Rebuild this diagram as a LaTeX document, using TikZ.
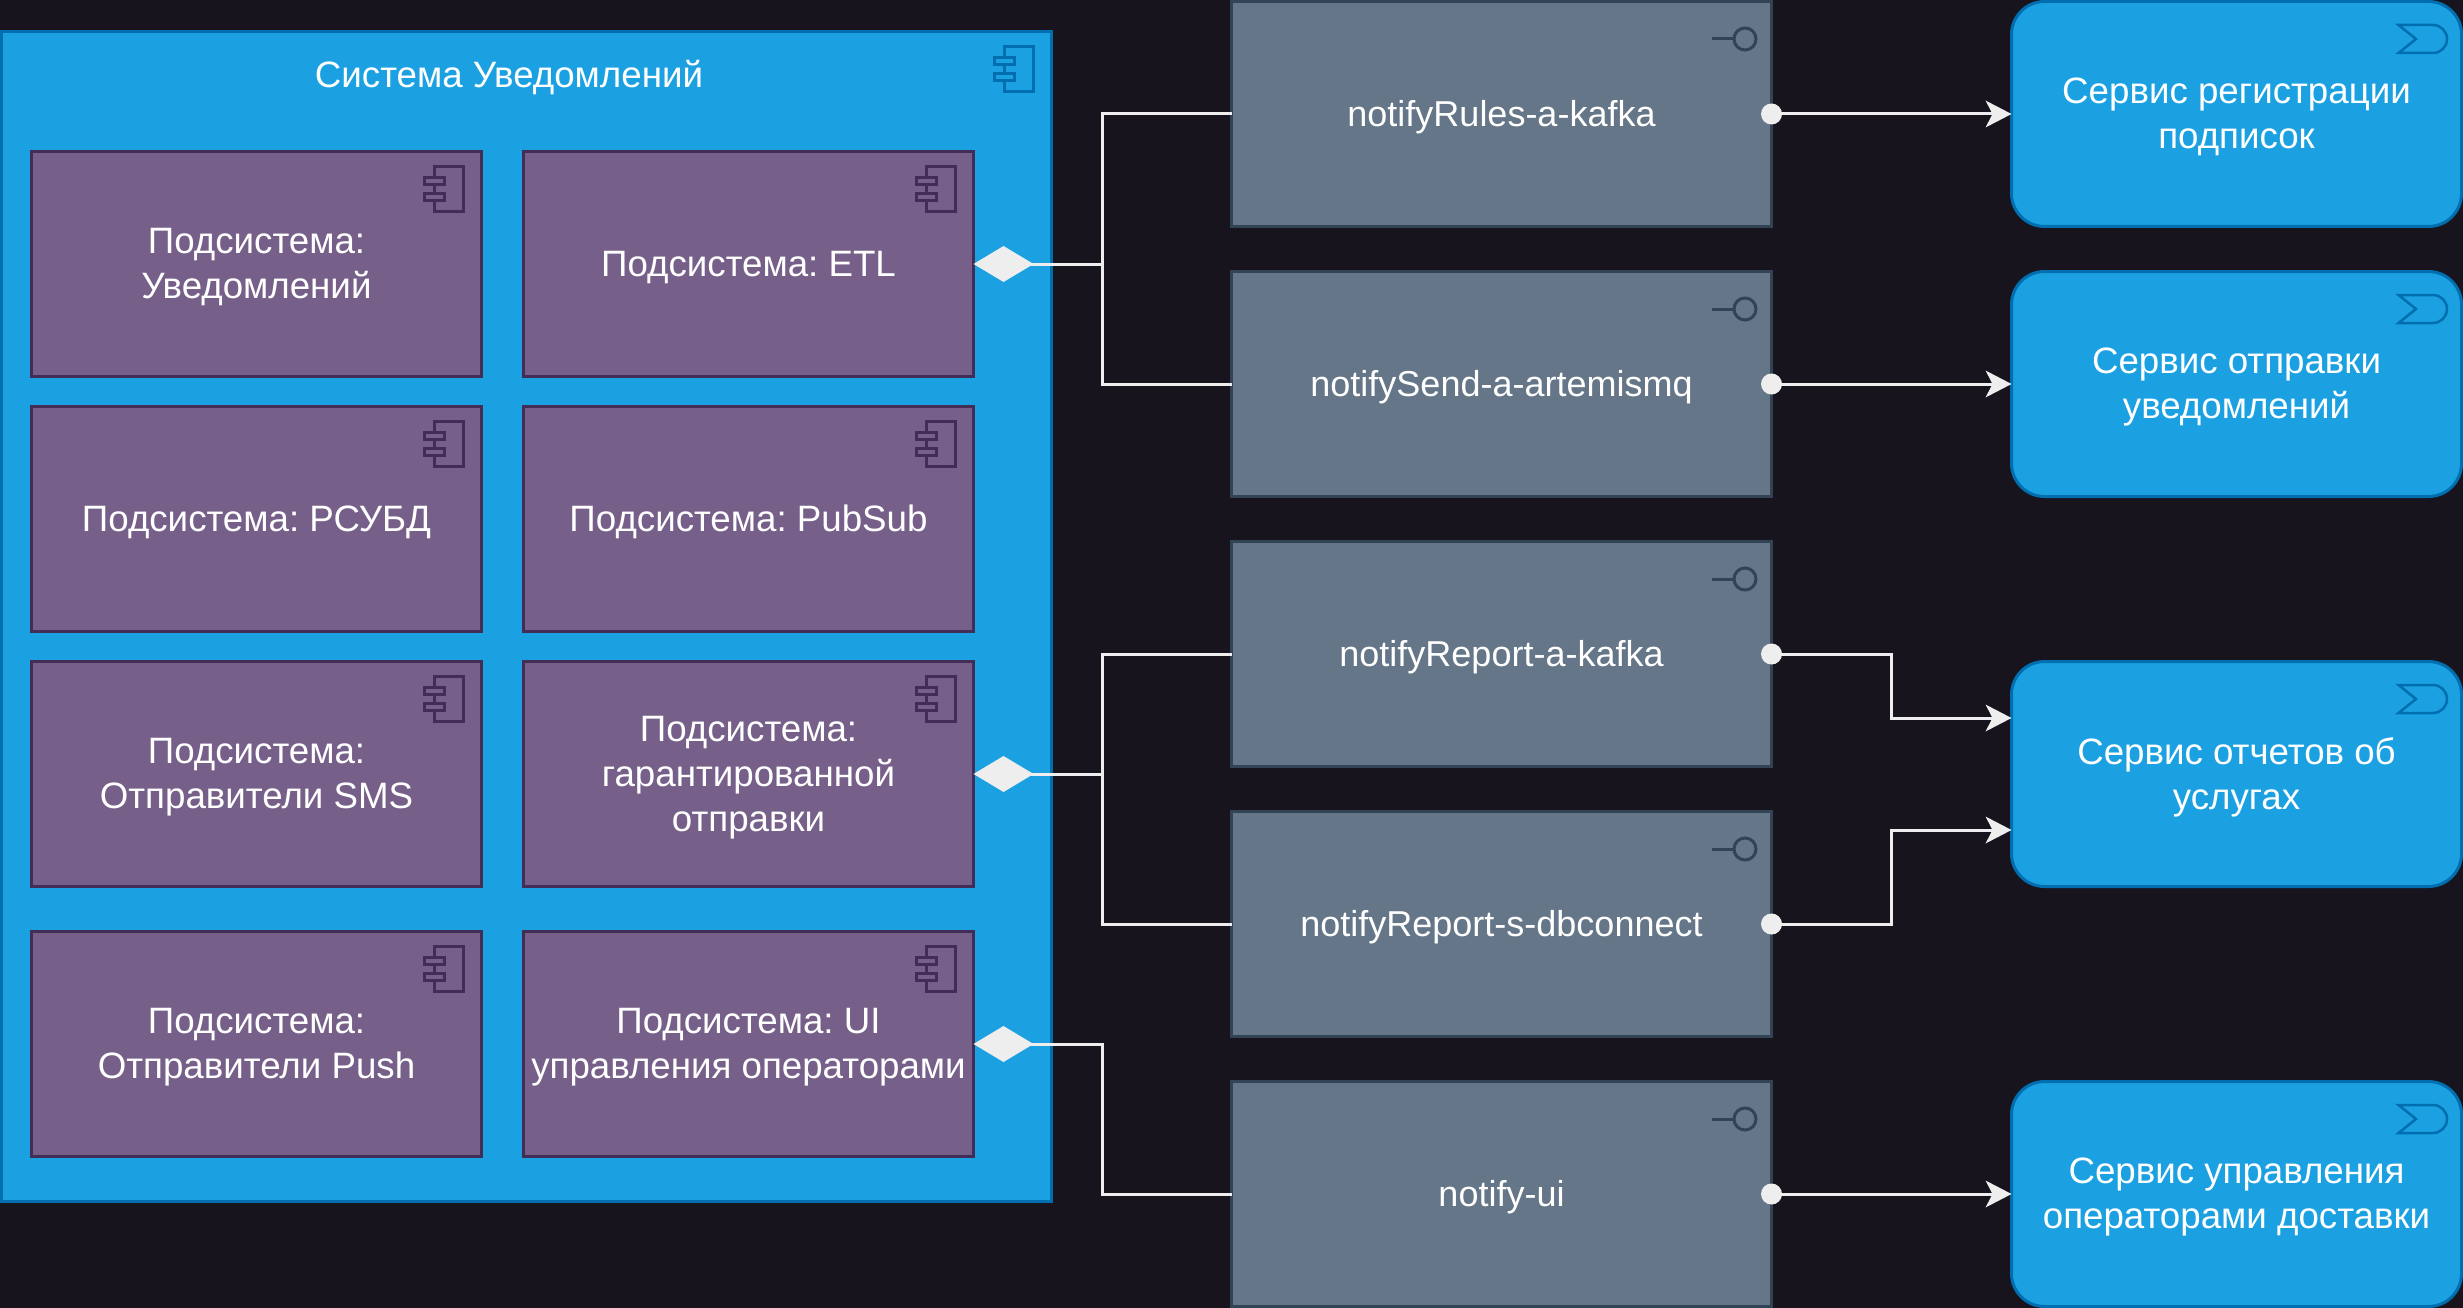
\documentclass[tikz,border=0pt]{standalone}
\usepackage{fontspec}
\setmainfont{Liberation Sans}
\usetikzlibrary{arrows.meta}

\definecolor{bgdark}{HTML}{18141D}
\definecolor{bluefill}{HTML}{1BA1E2}
\definecolor{blueline}{HTML}{006EAF}
\definecolor{purplefill}{HTML}{76608A}
\definecolor{purpleline}{HTML}{432D57}
\definecolor{greyfill}{HTML}{647687}
\definecolor{greyline}{HTML}{314354}
\definecolor{linkcol}{HTML}{EEEEEE}

\tikzset{
    label/.style={text=white, align=center, font=\frenchspacing\fontsize{36.7}{45}\selectfont, text depth=1pt, inner sep=0pt, outer sep=0pt},
    outerbox/.style={label, draw=blueline, fill=bluefill, line width=3pt, minimum width=1050pt, minimum height=1170pt},
    subbox/.style={label, draw=purpleline, fill=purplefill, line width=3pt, minimum width=450pt, minimum height=225pt},
    ifacebox/.style={label, font=\fontsize{36}{45}\selectfont, draw=greyline, fill=greyfill, line width=3pt, minimum width=540pt, minimum height=225pt},
    servicebox/.style={label, draw=blueline, fill=bluefill, line width=3pt, rounded corners=33pt, minimum width=450pt, minimum height=225pt},
    link/.style={draw=linkcol, line width=3pt},
    aggr/.style={link, {Diamond[length=60pt,width=36pt,fill=linkcol,line width=0pt]}-},
    flow/.style={link, -{Stealth[length=26pt,width=27pt,inset=7pt,fill=linkcol,line width=0pt]}},
    dotend/.style={circle, fill=linkcol, minimum size=21pt, inner sep=0pt, outer sep=0pt},
}

% Corner icons, placed from the north east corner of a box
\newcommand{\compicon}[3]{
    \begin{scope}[shift={(#1.north east)}, draw=#2, fill=#3, line width=3pt]
        \filldraw (-47,15) rectangle (-18,60);
        \filldraw (-57,26) rectangle (-37.5,33);
        \filldraw (-57,42) rectangle (-37.5,49);
    \end{scope}
}
\newcommand{\ifaceicon}[1]{
    \begin{scope}[shift={(#1.north east)}, draw=greyline, line width=3pt]
        \draw (-60,37.5) -- (-37.5,37.5);
        \draw (-26.5,37.5) circle (11);
    \end{scope}
}
\newcommand{\serviceicon}[1]{
    \begin{scope}[shift={(#1.north east)}, draw=blueline, line width=2.5pt]
        \draw (-63,23.5) -- (-28.5,23.5) arc (-90:90:14) -- (-63,51.5) -- (-45.5,37.5) -- cycle;
    \end{scope}
}

\begin{document}
\begin{tikzpicture}[x=1pt, y=-1pt]
    \useasboundingbox (0,0) rectangle (2463,1308);
    \fill[bgdark] (0,0) rectangle (2463,1308);

    % Main system
    \node[outerbox] (system) at (526.5,616.5) {};
    \node[label] (systitle) at (509,74) {Система Уведомлений};
    \compicon{system}{blueline}{bluefill}

    % Subsystems
    \node[subbox] (notif) at (256.5,264) {Подсистема:\\Уведомлений};
    \node[subbox] (etl) at (748.5,264) {Подсистема: ETL};
    \node[subbox] (rdbms) at (256.5,519) {Подсистема: РСУБД};
    \node[subbox] (pubsub) at (748.5,519) {Подсистема: PubSub};
    \node[subbox] (sms) at (256.5,774) {Подсистема:\\Отправители SMS};
    \node[subbox] (guaranteed) at (748.5,774) {Подсистема:\\гарантированной\\отправки};
    \node[subbox] (push) at (256.5,1044) {Подсистема:\\Отправители Push};
    \node[subbox] (operui) at (748.5,1044) {Подсистема: UI\\управления операторами};
    \foreach \sub in {notif, etl, rdbms, pubsub, sms, guaranteed, push, operui} {
        \compicon{\sub}{purpleline}{purplefill}
    }

    % Interfaces
    \node[ifacebox] (rules) at (1501.5,114) {notifyRules-a-kafka};
    \node[ifacebox] (send) at (1501.5,384) {notifySend-a-artemismq};
    \node[ifacebox] (report) at (1501.5,654) {notifyReport-a-kafka};
    \node[ifacebox] (dbconnect) at (1501.5,924) {notifyReport-s-dbconnect};
    \node[ifacebox] (ui) at (1501.5,1194) {notify-ui};
    \foreach \iface in {rules, send, report, dbconnect, ui} {
        \ifaceicon{\iface}
    }

    % External services
    \node[servicebox] (subscr) at (2236.5,114) {Сервис регистрации\\подписок};
    \node[servicebox] (sender) at (2236.5,384) {Сервис отправки\\уведомлений};
    \node[servicebox] (reports) at (2236.5,774) {Сервис отчетов об\\услугах};
    \node[servicebox] (operators) at (2236.5,1194) {Сервис управления\\операторами доставки};
    \foreach \svc in {subscr, sender, reports, operators} {
        \serviceicon{\svc}
    }

    % Subsystem to interface links
    \coordinate (busa) at (1102.5,264);
    \coordinate (busb) at (1102.5,774);
    \coordinate (busc) at (1102.5,1044);
    \draw[aggr] (etl.east) -- (busa) |- (rules.west);
    \draw[link] (busa) |- (send.west);
    \draw[aggr] (guaranteed.east) -- (busb) |- (report.west);
    \draw[link] (busb) |- (dbconnect.west);
    \draw[aggr] (operui.east) -- (busc) |- (ui.west);

    % Interface to service links
    \coordinate (repin) at (2011.5,718);
    \coordinate (dbin) at (2011.5,830);
    \coordinate (repbend) at (1891.5,654);
    \coordinate (dbbend) at (1891.5,924);
    \draw[flow] (rules.east) -- (subscr.west);
    \draw[flow] (send.east) -- (sender.west);
    \draw[flow] (report.east) -- (repbend) |- (repin);
    \draw[flow] (dbconnect.east) -- (dbbend) |- (dbin);
    \draw[flow] (ui.east) -- (operators.west);

    \foreach \iface in {rules, send, report, dbconnect, ui} {
        \node[dotend] (dot\iface) at (\iface.east) {};
    }
\end{tikzpicture}
\end{document}
